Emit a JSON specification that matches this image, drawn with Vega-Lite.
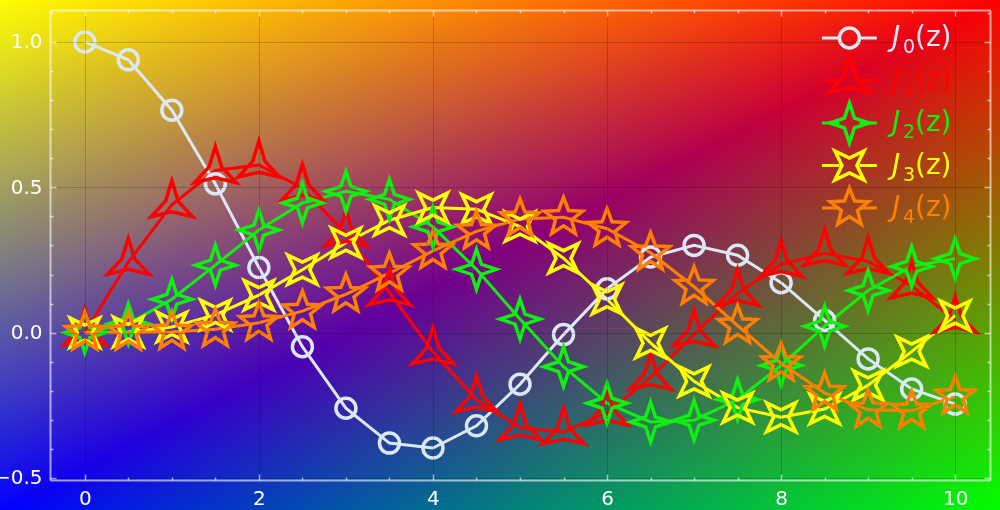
{
  "$schema": "https://vega.github.io/schema/vega-lite/v6.json",
  "width": 940,
  "height": 470,
  "autosize": {"type": "none"},
  "padding": {"left": 50, "top": 10, "right": 10, "bottom": 30},
  "background": "#000000",
  "config": {
    "view": {"stroke": null},
    "axis": {
      "domainColor": "#ffffff", "domainOpacity": 0.6, "domainWidth": 2,
      "tickColor": "#ffffff", "tickOpacity": 0.6, "tickWidth": 1.5,
      "labelColor": "#ffffff", "labelFont": "DejaVu Sans", "labelFontSize": 20,
      "gridColor": "#000000", "gridWidth": 1,
      "labelOverlap": false, "labelFlush": false
    }
  },
  "datasets": {
    "bessel": [
      {"z":0,"v":1,"s":"J₀(z)"},{"z":0.5,"v":0.9385,"s":"J₀(z)"},{"z":1,"v":0.7652,"s":"J₀(z)"},{"z":1.5,"v":0.5118,"s":"J₀(z)"},{"z":2,"v":0.2239,"s":"J₀(z)"},{"z":2.5,"v":-0.0484,"s":"J₀(z)"},{"z":3,"v":-0.2601,"s":"J₀(z)"},{"z":3.5,"v":-0.3801,"s":"J₀(z)"},{"z":4,"v":-0.3971,"s":"J₀(z)"},{"z":4.5,"v":-0.3205,"s":"J₀(z)"},{"z":5,"v":-0.1776,"s":"J₀(z)"},{"z":5.5,"v":-0.0068,"s":"J₀(z)"},{"z":6,"v":0.1506,"s":"J₀(z)"},{"z":6.5,"v":0.2601,"s":"J₀(z)"},{"z":7,"v":0.3001,"s":"J₀(z)"},{"z":7.5,"v":0.2663,"s":"J₀(z)"},{"z":8,"v":0.1717,"s":"J₀(z)"},{"z":8.5,"v":0.0419,"s":"J₀(z)"},{"z":9,"v":-0.0903,"s":"J₀(z)"},{"z":9.5,"v":-0.1939,"s":"J₀(z)"},{"z":10,"v":-0.2459,"s":"J₀(z)"},
      {"z":0,"v":0,"s":"J₁(z)"},{"z":0.5,"v":0.2423,"s":"J₁(z)"},{"z":1,"v":0.4401,"s":"J₁(z)"},{"z":1.5,"v":0.5579,"s":"J₁(z)"},{"z":2,"v":0.5767,"s":"J₁(z)"},{"z":2.5,"v":0.4971,"s":"J₁(z)"},{"z":3,"v":0.3391,"s":"J₁(z)"},{"z":3.5,"v":0.1374,"s":"J₁(z)"},{"z":4,"v":-0.066,"s":"J₁(z)"},{"z":4.5,"v":-0.2311,"s":"J₁(z)"},{"z":5,"v":-0.3276,"s":"J₁(z)"},{"z":5.5,"v":-0.3414,"s":"J₁(z)"},{"z":6,"v":-0.2767,"s":"J₁(z)"},{"z":6.5,"v":-0.1538,"s":"J₁(z)"},{"z":7,"v":-0.0047,"s":"J₁(z)"},{"z":7.5,"v":0.1352,"s":"J₁(z)"},{"z":8,"v":0.2346,"s":"J₁(z)"},{"z":8.5,"v":0.2731,"s":"J₁(z)"},{"z":9,"v":0.2453,"s":"J₁(z)"},{"z":9.5,"v":0.1613,"s":"J₁(z)"},{"z":10,"v":0.0435,"s":"J₁(z)"},
      {"z":0,"v":0,"s":"J₂(z)"},{"z":0.5,"v":0.0306,"s":"J₂(z)"},{"z":1,"v":0.1149,"s":"J₂(z)"},{"z":1.5,"v":0.2321,"s":"J₂(z)"},{"z":2,"v":0.3528,"s":"J₂(z)"},{"z":2.5,"v":0.4461,"s":"J₂(z)"},{"z":3,"v":0.4861,"s":"J₂(z)"},{"z":3.5,"v":0.4586,"s":"J₂(z)"},{"z":4,"v":0.3641,"s":"J₂(z)"},{"z":4.5,"v":0.2178,"s":"J₂(z)"},{"z":5,"v":0.0466,"s":"J₂(z)"},{"z":5.5,"v":-0.1173,"s":"J₂(z)"},{"z":6,"v":-0.2429,"s":"J₂(z)"},{"z":6.5,"v":-0.3074,"s":"J₂(z)"},{"z":7,"v":-0.3014,"s":"J₂(z)"},{"z":7.5,"v":-0.2303,"s":"J₂(z)"},{"z":8,"v":-0.113,"s":"J₂(z)"},{"z":8.5,"v":0.0223,"s":"J₂(z)"},{"z":9,"v":0.1448,"s":"J₂(z)"},{"z":9.5,"v":0.2279,"s":"J₂(z)"},{"z":10,"v":0.2546,"s":"J₂(z)"},
      {"z":0,"v":0,"s":"J₃(z)"},{"z":0.5,"v":0.0026,"s":"J₃(z)"},{"z":1,"v":0.0196,"s":"J₃(z)"},{"z":1.5,"v":0.061,"s":"J₃(z)"},{"z":2,"v":0.1289,"s":"J₃(z)"},{"z":2.5,"v":0.2166,"s":"J₃(z)"},{"z":3,"v":0.3091,"s":"J₃(z)"},{"z":3.5,"v":0.3868,"s":"J₃(z)"},{"z":4,"v":0.4302,"s":"J₃(z)"},{"z":4.5,"v":0.4247,"s":"J₃(z)"},{"z":5,"v":0.3648,"s":"J₃(z)"},{"z":5.5,"v":0.2561,"s":"J₃(z)"},{"z":6,"v":0.1148,"s":"J₃(z)"},{"z":6.5,"v":-0.0353,"s":"J₃(z)"},{"z":7,"v":-0.1676,"s":"J₃(z)"},{"z":7.5,"v":-0.2581,"s":"J₃(z)"},{"z":8,"v":-0.2911,"s":"J₃(z)"},{"z":8.5,"v":-0.2626,"s":"J₃(z)"},{"z":9,"v":-0.1809,"s":"J₃(z)"},{"z":9.5,"v":-0.0653,"s":"J₃(z)"},{"z":10,"v":0.0584,"s":"J₃(z)"},
      {"z":0,"v":0,"s":"J₄(z)"},{"z":0.5,"v":0.0002,"s":"J₄(z)"},{"z":1,"v":0.0025,"s":"J₄(z)"},{"z":1.5,"v":0.0118,"s":"J₄(z)"},{"z":2,"v":0.034,"s":"J₄(z)"},{"z":2.5,"v":0.0738,"s":"J₄(z)"},{"z":3,"v":0.132,"s":"J₄(z)"},{"z":3.5,"v":0.2044,"s":"J₄(z)"},{"z":4,"v":0.2811,"s":"J₄(z)"},{"z":4.5,"v":0.3484,"s":"J₄(z)"},{"z":5,"v":0.3912,"s":"J₄(z)"},{"z":5.5,"v":0.3967,"s":"J₄(z)"},{"z":6,"v":0.3576,"s":"J₄(z)"},{"z":6.5,"v":0.2748,"s":"J₄(z)"},{"z":7,"v":0.1578,"s":"J₄(z)"},{"z":7.5,"v":0.0238,"s":"J₄(z)"},{"z":8,"v":-0.1054,"s":"J₄(z)"},{"z":8.5,"v":-0.2077,"s":"J₄(z)"},{"z":9,"v":-0.2655,"s":"J₄(z)"},{"z":9.5,"v":-0.2691,"s":"J₄(z)"},{"z":10,"v":-0.2196,"s":"J₄(z)"}
    ],
    "legend": [
      {"s":"J₀(z)","d":"0"},{"s":"J₁(z)","d":"1"},{"s":"J₂(z)","d":"2"},{"s":"J₃(z)","d":"3"},{"s":"J₄(z)","d":"4"}
    ]
  },
  "layer": [
    {
      "layer": [
        {
          "data": {"values": [{}]},
          "mark": {"type": "rect", "strokeWidth": 0, "fill": {"gradient": "linear", "x1": 0, "y1": 0, "x2": 0, "y2": 1, "stops": [{"offset": 0, "color": "#ff0000"}, {"offset": 1, "color": "#000000"}]}},
          "encoding": {
            "x": {"datum": -0.99, "type": "quantitative", "scale": {"domain": [-0.4, 10.4], "nice": false, "zero": false}, "axis": null},
            "x2": {"datum": 10.53},
            "y": {"datum": 1.15, "type": "quantitative", "scale": {"domain": [-0.507, 1.11], "nice": false, "zero": false}, "axis": null},
            "y2": {"datum": -0.62}
          }
        },
        {
          "data": {"values": [{}]},
          "mark": {"type": "rect", "strokeWidth": 0, "blend": "lighten", "fill": {"gradient": "linear", "x1": 0, "y1": 0, "x2": 1, "y2": 1, "stops": [{"offset": 0, "color": "#00ff00"}, {"offset": 0.5, "color": "#000000"}, {"offset": 1, "color": "#00ff00"}]}},
          "encoding": {
            "x": {"datum": -0.99, "type": "quantitative", "scale": {"domain": [-0.4, 10.4], "nice": false, "zero": false}, "axis": null},
            "x2": {"datum": 10.53},
            "y": {"datum": 1.15, "type": "quantitative", "scale": {"domain": [-0.507, 1.11], "nice": false, "zero": false}, "axis": null},
            "y2": {"datum": -0.62}
          }
        },
        {
          "data": {"values": [{}]},
          "mark": {"type": "rect", "strokeWidth": 0, "blend": "lighten", "fill": {"gradient": "linear", "x1": 0, "y1": 0, "x2": 0, "y2": 1, "stops": [{"offset": 0, "color": "#000000"}, {"offset": 1, "color": "#0000ff"}]}},
          "encoding": {
            "x": {"datum": -0.99, "type": "quantitative", "scale": {"domain": [-0.4, 10.4], "nice": false, "zero": false}, "axis": null},
            "x2": {"datum": 10.53},
            "y": {"datum": 1.15, "type": "quantitative", "scale": {"domain": [-0.507, 1.11], "nice": false, "zero": false}, "axis": null},
            "y2": {"datum": -0.62}
          }
        },
        {
          "data": {"values": [{}]},
          "mark": {"type": "rect", "strokeWidth": 0, "blend": "darken", "fill": {"gradient": "linear", "x1": 0, "y1": 0, "x2": 1, "y2": 0, "stops": [{"offset": 0, "color": "#ffffff"}, {"offset": 1, "color": "#ffff00"}]}},
          "encoding": {
            "x": {"datum": -0.99, "type": "quantitative", "scale": {"domain": [-0.4, 10.4], "nice": false, "zero": false}, "axis": null},
            "x2": {"datum": 10.53},
            "y": {"datum": 1.15, "type": "quantitative", "scale": {"domain": [-0.507, 1.11], "nice": false, "zero": false}, "axis": null},
            "y2": {"datum": -0.62}
          }
        },
        {
          "data": {"name": "bessel"},
          "mark": {"type": "line", "strokeWidth": 3},
          "encoding": {
            "x": {"field": "z", "type": "quantitative", "scale": {"domain": [-0.4, 10.4], "nice": false, "zero": false},
              "axis": {"orient": "bottom", "title": null, "zindex": 1,
                "values": [0,0.5,1,1.5,2,2.5,3,3.5,4,4.5,5,5.5,6,6.5,7,7.5,8,8.5,9,9.5,10],
                "labelExpr": "datum.value % 2 === 0 ? format(datum.value, 'd') : ''",
                "grid": true,
                "gridOpacity": {"condition": {"test": "datum.value % 2 === 0", "value": 0.18}, "value": 0},
                "tickSize": {"condition": {"test": "datum.value % 2 === 0", "value": -6}, "value": -3},
                "labelPadding": 14}},
            "y": {"field": "v", "type": "quantitative", "scale": {"domain": [-0.507, 1.11], "nice": false, "zero": false},
              "axis": {"orient": "left", "title": null, "zindex": 1,
                "values": [-0.5,-0.4,-0.3,-0.2,-0.1,0,0.1,0.2,0.3,0.4,0.5,0.6,0.7,0.8,0.9,1,1.1],
                "labelExpr": "abs(datum.value*2 - round(datum.value*2)) < 0.001 ? format(datum.value, '.1f') : ''",
                "grid": true,
                "gridOpacity": {"condition": {"test": "abs(datum.value*2 - round(datum.value*2)) < 0.001", "value": 0.18}, "value": 0},
                "tickSize": {"condition": {"test": "abs(datum.value*2 - round(datum.value*2)) < 0.001", "value": -6}, "value": -3},
                "labelPadding": 14}},
            "color": {"field": "s", "type": "nominal", "legend": null,
              "scale": {"domain": ["J₀(z)","J₁(z)","J₂(z)","J₃(z)","J₄(z)"], "range": ["#dce8f6","#ff0000","#11ee11","#ffff00","#ff8000"]}}
          }
        },
        {
          "data": {"name": "bessel"},
          "mark": {"type": "point", "filled": false, "size": 400, "strokeWidth": 3.5, "opacity": 1},
          "encoding": {
            "x": {"field": "z", "type": "quantitative", "scale": {"domain": [-0.4, 10.4], "nice": false, "zero": false},
              "axis": {"orient": "top", "title": null, "labels": false, "grid": false, "zindex": 1,
                "values": [0,0.5,1,1.5,2,2.5,3,3.5,4,4.5,5,5.5,6,6.5,7,7.5,8,8.5,9,9.5,10],
                "tickSize": {"condition": {"test": "datum.value % 2 === 0", "value": -6}, "value": -3}}},
            "y": {"field": "v", "type": "quantitative", "scale": {"domain": [-0.507, 1.11], "nice": false, "zero": false},
              "axis": {"orient": "right", "title": null, "labels": false, "grid": false, "zindex": 1,
                "values": [-0.5,-0.4,-0.3,-0.2,-0.1,0,0.1,0.2,0.3,0.4,0.5,0.6,0.7,0.8,0.9,1,1.1],
                "tickSize": {"condition": {"test": "abs(datum.value*2 - round(datum.value*2)) < 0.001", "value": -6}, "value": -3}}},
            "color": {"field": "s", "type": "nominal", "legend": null,
              "scale": {"domain": ["J₀(z)","J₁(z)","J₂(z)","J₃(z)","J₄(z)"], "range": ["#dce8f6","#ff0000","#11ee11","#ffff00","#ff8000"]}},
            "shape": {"field": "s", "type": "nominal", "legend": null,
              "scale": {"domain": ["J₀(z)","J₁(z)","J₂(z)","J₃(z)","J₄(z)"],
                "range": ["circle",
                  "M0,-2.4L0.624,-0.36L2.078,1.2L0,0.72L-2.078,1.2L-0.624,-0.36Z",
                  "M0,-2L0.495,-0.495L2,0L0.495,0.495L0,2L-0.495,0.495L-2,0L-0.495,-0.495Z",
                  "M-1.45,-1.45L0,-0.75L1.45,-1.45L0.75,0L1.45,1.45L0,0.75L-1.45,1.45L-0.75,0Z",
                  "M0,-2L0.5,-0.688L1.902,-0.618L0.808,0.263L1.176,1.618L0,0.85L-1.176,1.618L-0.808,0.263L-1.902,-0.618L-0.5,-0.688Z"]}}
          }
        }
      ],
      "resolve": {"axis": {"x": "independent", "y": "independent"}}
    },
    {
      "data": {"name": "legend"},
      "encoding": {
        "y": {"field": "s", "type": "nominal", "axis": null,
          "scale": {"type": "point", "domain": ["J₀(z)","J₁(z)","J₂(z)","J₃(z)","J₄(z)"], "range": [28, 198], "padding": 0}},
        "color": {"field": "s", "type": "nominal", "legend": null,
          "scale": {"domain": ["J₀(z)","J₁(z)","J₂(z)","J₃(z)","J₄(z)"], "range": ["#dce8f6","#ff0000","#11ee11","#ffff00","#ff8000"]}}
      },
      "layer": [
        {
          "mark": {"type": "rule", "strokeWidth": 3},
          "encoding": {
            "x": {"datum": 8.47, "type": "quantitative", "scale": {"domain": [-0.4, 10.4], "nice": false, "zero": false}, "axis": null},
            "x2": {"datum": 8.67}
          }
        },
        {
          "mark": {"type": "rule", "strokeWidth": 3},
          "encoding": {
            "x": {"datum": 8.9, "type": "quantitative", "scale": {"domain": [-0.4, 10.4], "nice": false, "zero": false}, "axis": null},
            "x2": {"datum": 9.1}
          }
        },
        {
          "mark": {"type": "point", "filled": false, "size": 400, "strokeWidth": 3.5, "opacity": 1},
          "encoding": {
            "x": {"datum": 8.785, "type": "quantitative", "scale": {"domain": [-0.4, 10.4], "nice": false, "zero": false}, "axis": null},
            "shape": {"field": "s", "type": "nominal", "legend": null,
              "scale": {"domain": ["J₀(z)","J₁(z)","J₂(z)","J₃(z)","J₄(z)"],
                "range": ["circle",
                  "M0,-2.4L0.624,-0.36L2.078,1.2L0,0.72L-2.078,1.2L-0.624,-0.36Z",
                  "M0,-2L0.495,-0.495L2,0L0.495,0.495L0,2L-0.495,0.495L-2,0L-0.495,-0.495Z",
                  "M-1.45,-1.45L0,-0.75L1.45,-1.45L0.75,0L1.45,1.45L0,0.75L-1.45,1.45L-0.75,0Z",
                  "M0,-2L0.5,-0.688L1.902,-0.618L0.808,0.263L1.176,1.618L0,0.85L-1.176,1.618L-0.808,0.263L-1.902,-0.618L-0.5,-0.688Z"]}}
          }
        },
        {
          "mark": {"type": "text", "align": "left", "baseline": "middle", "font": "DejaVu Sans", "fontSize": 28, "fontStyle": "italic", "text": "J"},
          "encoding": {
            "x": {"datum": 9.274, "type": "quantitative", "scale": {"domain": [-0.4, 10.4], "nice": false, "zero": false}, "axis": null}
          }
        },
        {
          "mark": {"type": "text", "align": "left", "baseline": "middle", "font": "DejaVu Sans", "fontSize": 19, "dx": 11, "dy": 9},
          "encoding": {
            "x": {"datum": 9.274, "type": "quantitative", "scale": {"domain": [-0.4, 10.4], "nice": false, "zero": false}, "axis": null},
            "text": {"field": "d"}
          }
        },
        {
          "mark": {"type": "text", "align": "left", "baseline": "middle", "font": "DejaVu Sans", "fontSize": 28, "dx": 23, "text": "(z)"},
          "encoding": {
            "x": {"datum": 9.274, "type": "quantitative", "scale": {"domain": [-0.4, 10.4], "nice": false, "zero": false}, "axis": null}
          }
        }
      ]
    }
  ],
  "resolve": {"scale": {"y": "independent"}, "axis": {"x": "independent", "y": "independent"}}
}
